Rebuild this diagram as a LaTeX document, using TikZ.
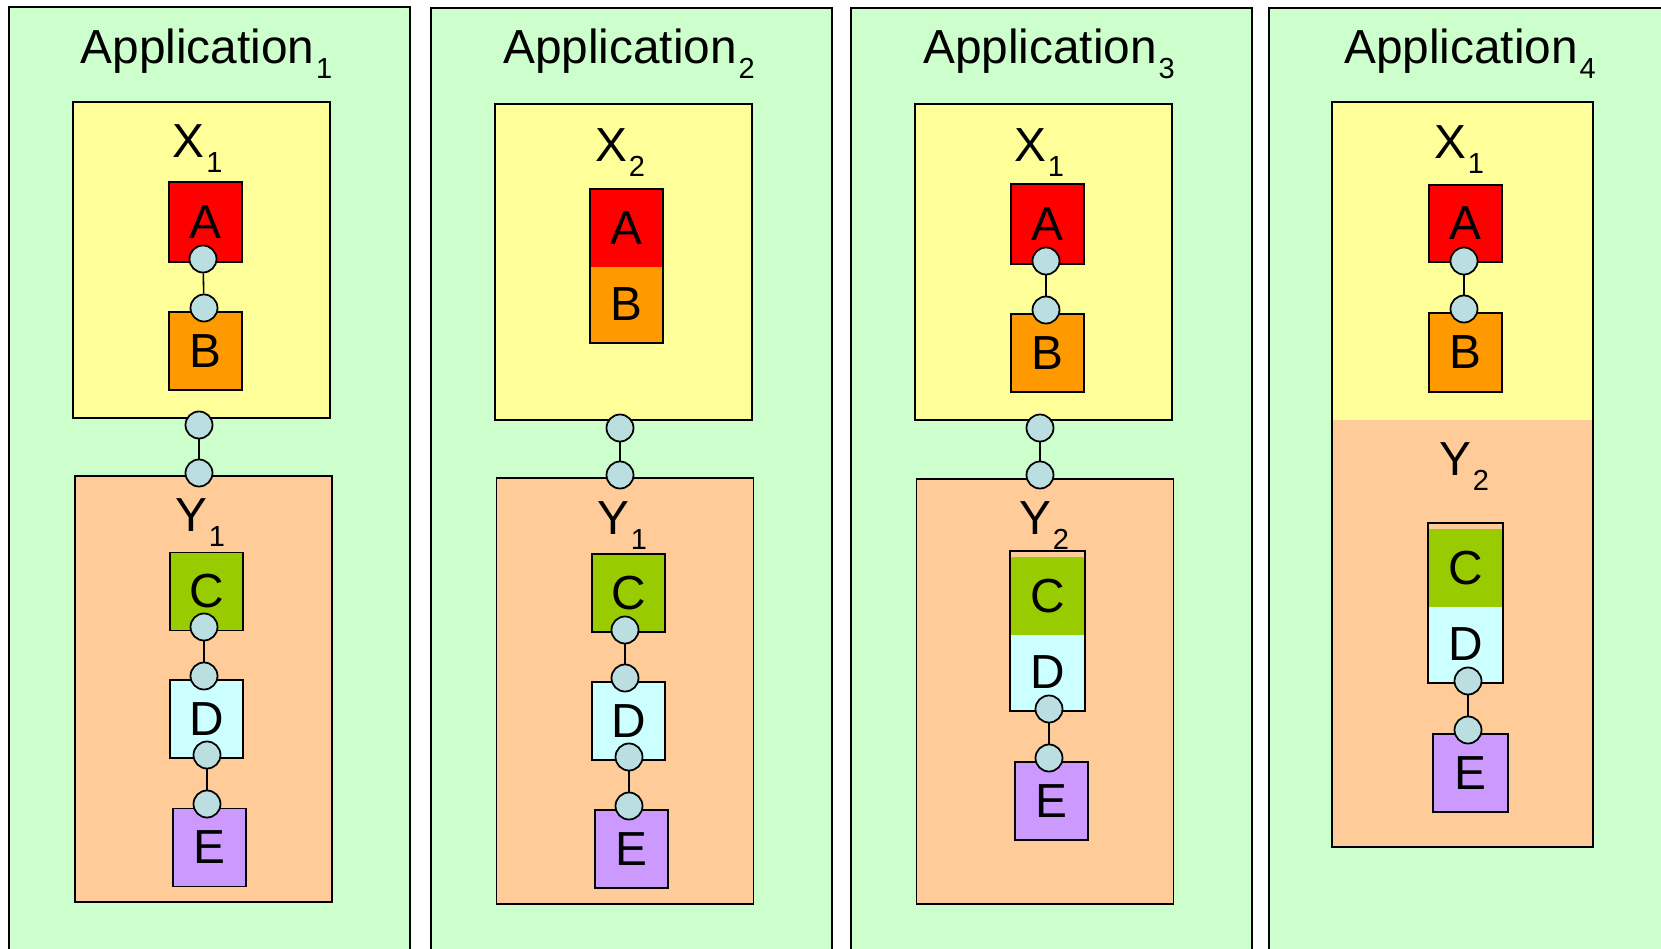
\documentclass[tikz,border=0pt]{standalone}
\usepackage{fontspec}
\setmainfont{Liberation Sans}

\definecolor{appgreen}{HTML}{CCFFCC}
\definecolor{xyellow}{HTML}{FFFF99}
\definecolor{yorange}{HTML}{FFCC99}
\definecolor{ared}{HTML}{FF0000}
\definecolor{borange}{HTML}{FF9900}
\definecolor{cgreen}{HTML}{99CC00}
\definecolor{dcyan}{HTML}{CCFFFF}
\definecolor{epurple}{HTML}{CC99FF}
\definecolor{portblue}{HTML}{BBDEE1}

\newcommand{\lowidx}[1]{\kern1pt\raisebox{-8pt}{\fontsize{16.5pt}{16.5pt}\selectfont #1}}

\begin{document}
\begin{tikzpicture}[x=0.02cm,y=-0.02cm,
                app node/.style={draw,line width=1.1pt,fill=appgreen,minimum width=8.02cm,minimum height=19.86cm,inner sep=0},
                box node/.style={draw,line width=1.1pt,minimum width=5.14cm,inner sep=0},
                comp node/.style={draw,line width=1.1pt,minimum width=1.46cm,minimum height=1.56cm,inner sep=0,
                                  font=\fontsize{27.2pt}{32pt}\selectfont},
                label node/.style={anchor=base,inner sep=0,font=\fontsize{27.2pt}{32pt}\selectfont},
                port node/.style={circle,draw,line width=1pt,fill=portblue,minimum size=0.54cm,inner sep=0},
                every edge/.style={draw,line width=0.9pt}]
                \useasboundingbox (0,0) rectangle (1661,949);
                \clip (0,0) rectangle (1661,949);

                % applications
                \node[app node] (app1) at (209.5,503) {};
                \node[app node] (app2) at (631.5,504) {};
                \node[app node] (app3) at (1051.5,504) {};
                \node[app node] (app4) at (1469.5,504) {};
                \node[label node] (t1) at (206.5,64) {Application\lowidx{1}};
                \node[label node] (t2) at (629,64) {Application\lowidx{2}};
                \node[label node] (t3) at (1049,64) {Application\lowidx{3}};
                \node[label node] (t4) at (1470,64) {Application\lowidx{4}};

                % application 1
                \node[box node,fill=xyellow,minimum height=6.32cm] (x1) at (201.5,260) {};
                \node[box node,fill=yorange,minimum height=8.52cm] (y1) at (203.5,689) {};
                \node[label node] (xl1) at (197.5,158) {X\lowidx{1}};
                \node[label node] (yl1) at (200,532) {Y\lowidx{1}};
                \node[comp node,fill=ared,minimum height=1.6cm] (a1) at (205.5,222) {A};
                \node[comp node,fill=borange] (b1) at (205.5,351) {B};
                \node[comp node,fill=cgreen] (c1) at (206.5,591.5) {C};
                \node[comp node,fill=dcyan] (d1) at (206.5,719) {D};
                \node[comp node,fill=epurple] (e1) at (209.5,847.5) {E};
                \node[port node] (a1o) at (203,259) {};
                \node[port node] (b1i) at (204,308) {};
                \node[port node] (x1o) at (199,425) {};
                \node[port node] (y1i) at (199,473) {};
                \node[port node] (c1o) at (204,627) {};
                \node[port node] (d1i) at (204,676) {};
                \node[port node] (d1o) at (207,755) {};
                \node[port node] (e1i) at (207,804) {};

                % application 2
                \node[box node,fill=xyellow,minimum height=6.32cm] (x2) at (623.5,262) {};
                \node[box node,fill=yorange,minimum height=8.52cm] (y2) at (625,691) {};
                \node[label node] (xl2) at (620,162) {X\lowidx{2}};
                \node[label node] (yl2) at (622,535) {Y\lowidx{1}};
                \node[comp node,draw=none,fill=ared,minimum width=1.42cm,minimum height=1.54cm] (a2) at (626.5,228.5) {A};
                \node[comp node,draw=none,fill=borange,minimum width=1.42cm,minimum height=1.5cm] (b2) at (626.5,304.5) {B};
                \draw[line width=1.1pt] (a2.north west) rectangle (b2.south east);
                \node[comp node,fill=cgreen] (c2) at (628.5,593) {C};
                \node[comp node,fill=dcyan] (d2) at (628.5,721) {D};
                \node[comp node,fill=epurple] (e2) at (631.5,849) {E};
                \node[port node] (x2o) at (620,428) {};
                \node[port node] (y2i) at (620,475) {};
                \node[port node] (c2o) at (625,630) {};
                \node[port node] (d2i) at (625,678) {};
                \node[port node] (d2o) at (629,757) {};
                \node[port node] (e2i) at (629,806) {};

                % application 3
                \node[box node,fill=xyellow,minimum height=6.32cm] (x3) at (1043.5,262) {};
                \node[box node,fill=yorange,minimum height=8.52cm] (y3) at (1045,691.5) {};
                \node[label node] (xl3) at (1039,162) {X\lowidx{1}};
                \node[label node] (yl3) at (1044,535) {Y\lowidx{2}};
                \node[comp node,fill=ared,minimum height=1.6cm] (a3) at (1047.5,224) {A};
                \node[comp node,fill=borange] (b3) at (1047.5,353) {B};
                \node[comp node,draw=none,fill=cgreen] (c3) at (1047.5,596) {C};
                \node[comp node,draw=none,fill=dcyan,minimum height=1.5cm] (d3) at (1047.5,672.5) {D};
                \draw[line width=1.1pt] ([yshift=0.1cm]c3.north west) rectangle (d3.south east);
                \node[comp node,fill=epurple] (e3) at (1051.5,801) {E};
                \node[port node] (a3o) at (1046,261) {};
                \node[port node] (b3i) at (1046,310) {};
                \node[port node] (x3o) at (1040,428) {};
                \node[port node] (y3i) at (1040,475) {};
                \node[port node] (d3o) at (1049,709) {};
                \node[port node] (e3i) at (1049,758) {};

                % application 4
                \node[box node,draw=none,fill=xyellow,minimum width=5.18cm,minimum height=6.34cm] (x4) at (1462.5,261.5) {};
                \node[box node,draw=none,fill=yorange,minimum width=5.18cm,minimum height=8.52cm] (y4) at (1462.5,633) {};
                \draw[line width=1.1pt] (x4.north west) rectangle (y4.south east);
                \node[label node] (xl4) at (1459,159) {X\lowidx{1}};
                \node[label node] (yl4) at (1464,476) {Y\lowidx{2}};
                \node[comp node,fill=ared,minimum height=1.54cm] (a4) at (1465.5,223.5) {A};
                \node[comp node,fill=borange,minimum height=1.58cm] (b4) at (1465.5,352.5) {B};
                \node[comp node,draw=none,fill=cgreen] (c4) at (1465.5,568) {C};
                \node[comp node,draw=none,fill=dcyan,minimum height=1.5cm] (d4) at (1465.5,644.5) {D};
                \draw[line width=1.1pt] ([yshift=0.1cm]c4.north west) rectangle (d4.south east);
                \node[comp node,fill=epurple,minimum width=1.5cm] (e4) at (1470.5,773) {E};
                \node[port node] (a4o) at (1464,261) {};
                \node[port node] (b4i) at (1464,309) {};
                \node[port node] (d4o) at (1468,681) {};
                \node[port node] (e4i) at (1468,730) {};

                \path (a1o) edge (b1i) (x1o) edge (y1i) (c1o) edge (d1i) (d1o) edge (e1i)
                      (x2o) edge (y2i) (c2o) edge (d2i) (d2o) edge (e2i)
                      (a3o) edge (b3i) (x3o) edge (y3i) (d3o) edge (e3i)
                      (a4o) edge (b4i) (d4o) edge (e4i);
\end{tikzpicture}
\end{document}
